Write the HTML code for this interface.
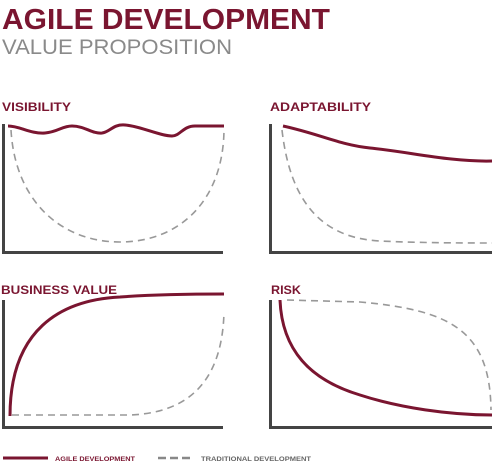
<!DOCTYPE html>
<html><head><style>body{margin:0;background:#fff}svg{display:block}</style></head><body>
<svg width="499" height="464" viewBox="0 0 499 464" xmlns="http://www.w3.org/2000/svg" font-family="Liberation Sans, sans-serif">
<text x="2" y="29" font-size="29" font-weight="bold" fill="#7a1530" textLength="328" lengthAdjust="spacingAndGlyphs">AGILE DEVELOPMENT</text>
<text x="2" y="54" font-size="21" fill="#8a8a8a" textLength="230" lengthAdjust="spacingAndGlyphs">VALUE PROPOSITION</text>
<g font-size="12" font-weight="bold" fill="#7a1530">
<text x="2" y="111" textLength="69" lengthAdjust="spacingAndGlyphs">VISIBILITY</text>
<text x="270" y="111" textLength="101" lengthAdjust="spacingAndGlyphs">ADAPTABILITY</text>
<text x="1" y="294" textLength="116" lengthAdjust="spacingAndGlyphs">BUSINESS VALUE</text>
<text x="271" y="294" textLength="30" lengthAdjust="spacingAndGlyphs">RISK</text>
</g>
<g stroke="#444" stroke-width="3" fill="none">
<path d="M3.5 124 V252.5 H223"/>
<path d="M270.5 124 V252.5 H492"/>
<path d="M3.5 300 V427.5 H223"/>
<path d="M270.5 300 V427.5 H492"/>
</g>
<g stroke="#999" stroke-width="1.6" fill="none" stroke-dasharray="7,5">
<path d="M11 130 C15 200 60 242 120 242 C180 242 224 200 224 128"/>
<path d="M282 130 C290 200 320 238 380 241 C420 243 470 243 492 243"/>
<path d="M12 415 L130 415 C180 413 222 390 224 312"/>
<path d="M287 300 L360 302 C450 310 490 330 491 410"/>
</g>
<g stroke="#7a1530" stroke-width="3" fill="none">
<path d="M8 126 C20 126 30 134 45 133 C58 132 62 126 72 126 C85 126 92 134 102 133 C110 132 113 124 125 125 C140 126 160 136 172 136 C180 136 183 126 195 126 L224 126"/>
<path d="M283 126 C320 134 340 145 370 148 C410 152 450 162 492 161"/>
<path d="M10 416 C10 330 60 300 120 297 C160 294 200 294 224 294"/>
<path d="M280 300 C282 350 310 380 360 395 C400 408 450 415 492 415"/>
</g>
<path d="M3 458 H48" stroke="#7a1530" stroke-width="3"/>
<path d="M158 458 H193" stroke="#888" stroke-width="2.5" stroke-dasharray="8,4"/>
<text x="55" y="461" font-size="6.5" font-weight="bold" fill="#7a1530" textLength="80" lengthAdjust="spacingAndGlyphs">AGILE DEVELOPMENT</text>
<text x="201" y="461" font-size="6.5" font-weight="bold" fill="#666" textLength="110" lengthAdjust="spacingAndGlyphs">TRADITIONAL DEVELOPMENT</text>
</svg>
</body></html>
